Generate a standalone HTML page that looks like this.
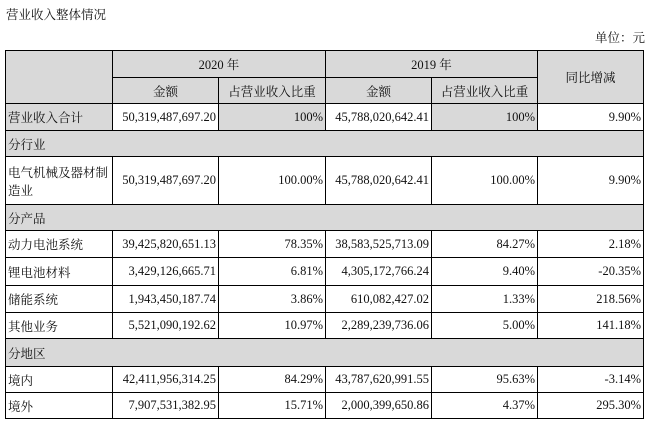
<!DOCTYPE html>
<html><head><meta charset="utf-8"><style>
body{margin:0;width:653px;height:424px;background:#fff;position:relative;overflow:hidden;font-family:"Liberation Serif","Noto Serif CJK SC",serif;font-size:12.5px;color:#111}
.c{position:absolute;box-sizing:border-box;border:1px solid #000;display:flex;align-items:center;padding:0 2px;white-space:nowrap}
.g{background:#d9d9d9}
.r{justify-content:flex-end}
.m{justify-content:center}
.t{position:absolute}
</style></head><body>
<div class="t" style="left:6px;top:5px">营业收入整体情况</div>
<div class="t" style="right:8px;top:28px">单位：元</div>
<div id="tb"></div>
<script>
var X=[5,112,218,325,431,537,643];
var Y=[50,77,103,130,156,204,230,257,285,312,338,366,392,418];
var h='';
function cell(x0,x1,y0,y1,txt,cls){h+='<div class="c '+cls+'" style="left:'+x0+'px;top:'+y0+'px;width:'+(x1-x0+1)+'px;height:'+(y1-y0+1)+'px">'+txt+'</div>';}
cell(X[0],X[1],Y[0],Y[2],'','g');
cell(X[1],X[3],Y[0],Y[1],'2020 年','g m');
cell(X[3],X[5],Y[0],Y[1],'2019 年','g m');
cell(X[5],X[6],Y[0],Y[2],'同比增减','g m');
cell(X[1],X[2],Y[1],Y[2],'金额','g m');
cell(X[2],X[3],Y[1],Y[2],'占营业收入比重','g m');
cell(X[3],X[4],Y[1],Y[2],'金额','g m');
cell(X[4],X[5],Y[1],Y[2],'占营业收入比重','g m');
cell(X[0],X[1],Y[2],Y[3],'营业收入合计','g');
cell(X[1],X[2],Y[2],Y[3],'50,319,487,697.20','r');
cell(X[2],X[3],Y[2],Y[3],'100%','g r');
cell(X[3],X[4],Y[2],Y[3],'45,788,020,642.41','r');
cell(X[4],X[5],Y[2],Y[3],'100%','g r');
cell(X[5],X[6],Y[2],Y[3],'9.90%','r');
var rows=[
[3,'分行业'],
[4,['电气机械及器材制<br>造业','50,319,487,697.20','100.00%','45,788,020,642.41','100.00%','9.90%']],
[5,'分产品'],
[6,['动力电池系统','39,425,820,651.13','78.35%','38,583,525,713.09','84.27%','2.18%']],
[7,['锂电池材料','3,429,126,665.71','6.81%','4,305,172,766.24','9.40%','-20.35%']],
[8,['储能系统','1,943,450,187.74','3.86%','610,082,427.02','1.33%','218.56%']],
[9,['其他业务','5,521,090,192.62','10.97%','2,289,239,736.06','5.00%','141.18%']],
[10,'分地区'],
[11,['境内','42,411,956,314.25','84.29%','43,787,620,991.55','95.63%','-3.14%']],
[12,['境外','7,907,531,382.95','15.71%','2,000,399,650.86','4.37%','295.30%']]
];
rows.forEach(function(r){var i=r[0];
 if(typeof r[1]=='string'){cell(X[0],X[6],Y[i],Y[i+1],r[1],'g');}
 else{for(var k=0;k<6;k++){cell(X[k],X[k+1],Y[i],Y[i+1],r[1][k],k==0?'':'r');}}
});
document.getElementById('tb').innerHTML=h;
</script>
<style>.c br{}</style>
</body></html>
